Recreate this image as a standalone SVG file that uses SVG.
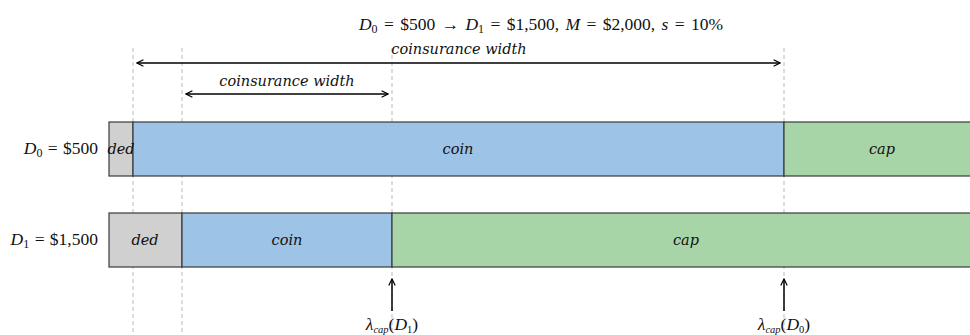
<svg xmlns="http://www.w3.org/2000/svg" width="970" height="335" viewBox="0 0 970 335">
<style>
.bar{stroke:#3a3a3a;stroke-width:1.2}
.ded{fill:#d0d0d0}.coin{fill:#9dc3e6}.cap{fill:#a8d5a8}
.lbl{font-family:"DejaVu Serif",serif;font-style:italic;font-size:14.5px;fill:#111;text-anchor:middle}
.math{font-family:"Liberation Serif","DejaVu Serif",serif;font-size:17.5px;fill:#111}
.mi{font-style:italic}
.guide{stroke:#bbbbbb;stroke-width:1;stroke-dasharray:4,3}
.arr{stroke:#000;stroke-width:1.5;fill:none}
</style>
<defs>
<marker id="ah" viewBox="0 0 10 10" refX="9" refY="5" markerWidth="8" markerHeight="8" orient="auto-start-reverse" markerUnits="userSpaceOnUse">
<path d="M1,1 L9,5 L1,9" fill="none" stroke="#000" stroke-width="1.5"/>
</marker>
</defs>
<rect width="970" height="335" fill="#fff"/>
<g id="guides">
<line class="guide" x1="133" y1="48" x2="133" y2="335"/>
<line class="guide" x1="182" y1="48" x2="182" y2="335"/>
<line class="guide" x1="392" y1="48" x2="392" y2="335"/>
<line class="guide" x1="784" y1="48" x2="784" y2="335"/>
</g>
<g id="title"><text class="math" x="541" y="30" text-anchor="middle" word-spacing="2"><tspan class="mi">D</tspan><tspan font-size="12" dy="3">0</tspan><tspan dy="-3"> = $500 → </tspan><tspan class="mi">D</tspan><tspan font-size="12" dy="3">1</tspan><tspan dy="-3"> = $1,500, </tspan><tspan class="mi">M</tspan><tspan> = $2,000, </tspan><tspan class="mi">s</tspan><tspan> = 10%</tspan></text></g>
<g id="row0">
<rect class="bar ded" x="109" y="122" width="24" height="54"/>
<rect class="bar coin" x="133" y="122" width="651" height="54"/>
<rect class="bar cap" x="784" y="122" width="190" height="54"/>
<text class="lbl" x="121" y="154">ded</text>
<text class="lbl" x="458" y="154">coin</text>
<text class="lbl" x="882" y="154">cap</text>
<text class="math" x="98" y="154" text-anchor="end" word-spacing="1"><tspan class="mi">D</tspan><tspan font-size="12" dy="3">0</tspan><tspan dy="-3"> = $500</tspan></text>
</g>
<g id="row1">
<rect class="bar ded" x="109" y="213" width="73" height="54"/>
<rect class="bar coin" x="182" y="213" width="210" height="54"/>
<rect class="bar cap" x="392" y="213" width="582" height="54"/>
<text class="lbl" x="145" y="245">ded</text>
<text class="lbl" x="287" y="245">coin</text>
<text class="lbl" x="686" y="245">cap</text>
<text class="math" x="98" y="245" text-anchor="end" word-spacing="1"><tspan class="mi">D</tspan><tspan font-size="12" dy="3">1</tspan><tspan dy="-3"> = $1,500</tspan></text>
</g>
<g id="connectors">
<line class="arr" x1="137" y1="63" x2="780" y2="63" marker-start="url(#ah)" marker-end="url(#ah)"/>
<line class="arr" x1="186" y1="94" x2="388" y2="94" marker-start="url(#ah)" marker-end="url(#ah)"/>
<line class="arr" x1="392" y1="311" x2="392" y2="279" marker-end="url(#ah)"/>
<line class="arr" x1="784" y1="311" x2="784" y2="279" marker-end="url(#ah)"/>
</g>
<g id="labels">
<text class="lbl" x="459" y="54">coinsurance width</text>
<text class="lbl" x="287" y="86">coinsurance width</text>
<text class="math" x="392" y="330" text-anchor="middle" font-size="15.5"><tspan class="mi">λ</tspan><tspan class="mi" font-size="10.5" dy="3">cap</tspan><tspan dy="-3">(</tspan><tspan class="mi">D</tspan><tspan font-size="10.5" dy="3">1</tspan><tspan dy="-3">)</tspan></text>
<text class="math" x="784" y="330" text-anchor="middle" font-size="15.5"><tspan class="mi">λ</tspan><tspan class="mi" font-size="10.5" dy="3">cap</tspan><tspan dy="-3">(</tspan><tspan class="mi">D</tspan><tspan font-size="10.5" dy="3">0</tspan><tspan dy="-3">)</tspan></text>
</g>
</svg>
